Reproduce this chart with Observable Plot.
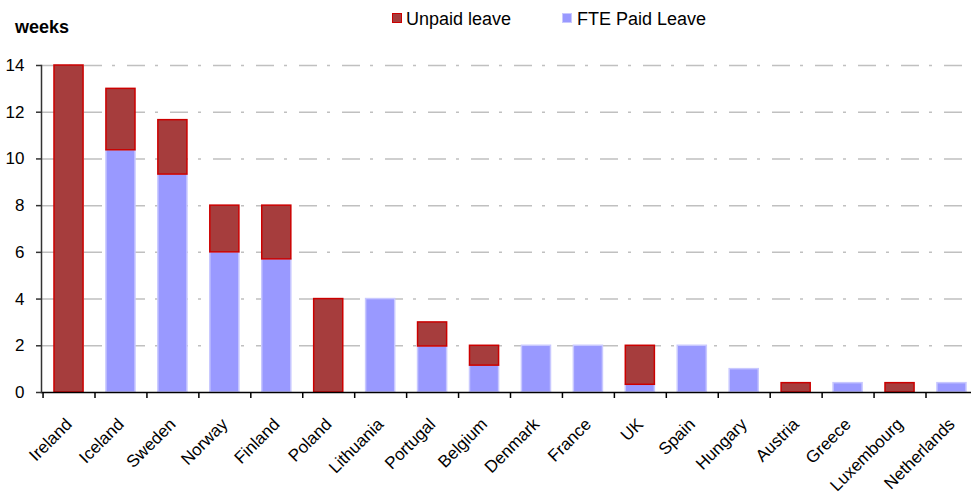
<!DOCTYPE html>
<html>
<head>
<meta charset="utf-8">
<script src="https://cdn.jsdelivr.net/npm/d3@7"></script>
<script src="https://cdn.jsdelivr.net/npm/@observablehq/plot@0.6"></script>
<style>
  body { margin: 0; overflow: hidden; background: white; font-family: "Liberation Sans", Arial, sans-serif; }
  #header { position: relative; height: 42px; width: 971px; }
  .lab { position: absolute; font-size: 18px; line-height: 21px; color: #000; white-space: nowrap; }
  .sw { position: absolute; width: 8px; height: 8px; }
</style>
</head>
<body>
<div id="header"></div>
<div id="chart"></div>
<script>
const countries = ["Ireland","Iceland","Sweden","Norway","Finland","Poland","Lithuania","Portugal","Belgium","Denmark","France","UK","Spain","Hungary","Austria","Greece","Luxembourg","Netherlands"];
const paidLeave   = [0, 10.37, 9.33, 6.0, 5.7, 0, 4.0, 1.97, 1.15, 2.0, 2.0, 0.33, 2.0, 1.0, 0, 0.4, 0, 0.4];
const unpaidLeave = [14.0, 2.63, 2.33, 2.0, 2.3, 4.0, 0, 1.03, 0.85, 0, 0, 1.67, 0, 0, 0.4, 0, 0.4, 0];
const seriesNames = ["FTE Paid Leave", "Unpaid leave"];
const legendOrder = ["Unpaid leave", "FTE Paid Leave"];
const yTicks = [0, 2, 4, 6, 8, 10, 12, 14];
const yLabel = "weeks";

const fills = {"Unpaid leave": "#a63d3d", "FTE Paid Leave": "#9999ff"};
const strokes = {"Unpaid leave": "#cc0000", "FTE Paid Leave": "#c8c8ff"};

const rows = [];
countries.forEach((c, i) => {
  rows.push({country: c, type: seriesNames[0], value: paidLeave[i]});
  rows.push({country: c, type: seriesNames[1], value: unpaidLeave[i]});
});
const data = rows.filter(d => d.value > 0);

// header: legend + axis title
const header = document.getElementById("header");
header.innerHTML = `
  <div class="lab" style="left:15px; top:17px; font-weight:bold;">${yLabel}</div>
  <div class="sw" style="left:392px; top:13px; background:${fills[legendOrder[0]]}; border:1px solid ${strokes[legendOrder[0]]};"></div>
  <div class="lab" style="left:406px; top:9px;">${legendOrder[0]}</div>
  <div class="sw" style="left:562px; top:13px; background:${fills[legendOrder[1]]}; border:1px solid ${strokes[legendOrder[1]]};"></div>
  <div class="lab" style="left:577px; top:9px;">${legendOrder[1]}</div>
`;

const W = 971, H = 456, mL = 41, mR = -8, mT = 23, mB = 106;
const pIn = 0.44, pOut = 0.25;
const step = (W - mL - mR) / (countries.length - pIn + 2 * pOut);

const chart = Plot.plot({
  width: W, height: H,
  marginLeft: mL, marginRight: mR, marginTop: mT, marginBottom: mB,
  style: {fontFamily: "Liberation Sans, Arial, sans-serif", background: "white", overflow: "hidden"},
  x: {domain: countries, paddingInner: pIn, paddingOuter: pOut, round: false, label: null},
  y: {domain: [0, 14], label: null},
  marks: [
    Plot.ruleY(yTicks.filter(d => d > 0), {stroke: "#c0c0c0", strokeWidth: 1.5, strokeDasharray: "18,10,3,12", strokeOpacity: 1}),
    Plot.barY(data, {x: "country", y: "value", fill: d => fills[d.type], stroke: d => strokes[d.type], strokeWidth: 1.5, order: null}),
    Plot.ruleY([0], {stroke: "#000", strokeWidth: 1.5}),
    Plot.frame({anchor: "left", stroke: "#333", strokeWidth: 1.5}),
    Plot.ruleX(countries, {x: d => d, y1: 0, y2: 0, dx: -step / 2, insetBottom: -6, stroke: "#000", strokeWidth: 1.5}),
    Plot.axisY({ticks: yTicks, tickSize: 5, tickPadding: 12, fontSize: 17, stroke: "#333", strokeWidth: 1.5, label: null, tickFormat: d => d}),
    Plot.axisX({tickSize: 0, tickRotate: -45, tickPadding: 29, fontSize: 17, label: null, fill: "#000"})
  ]
});
document.getElementById("chart").appendChild(chart);
</script>
</body>
</html>
